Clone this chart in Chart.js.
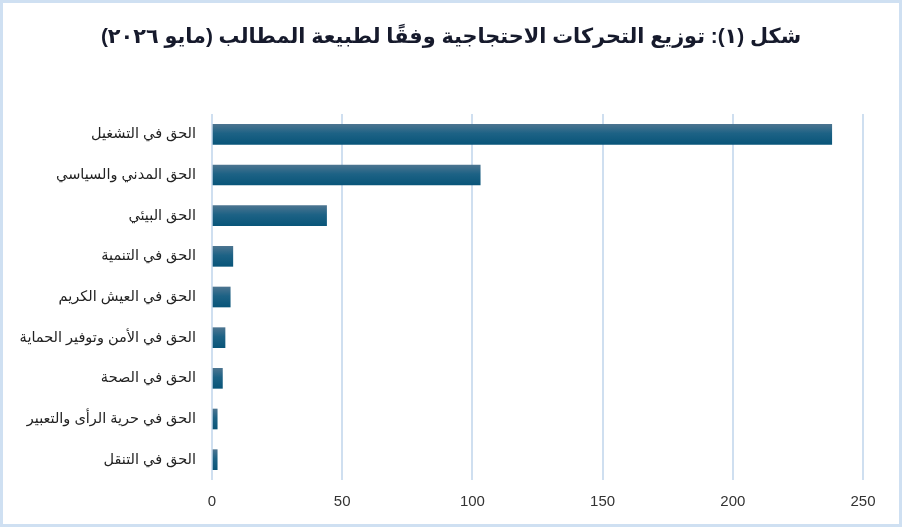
<!DOCTYPE html>
<html lang="ar">
<head>
<meta charset="utf-8">
<title>توزيع التحركات الاحتجاجية</title>
<script src="https://cdn.jsdelivr.net/npm/chart.js@4.4.1/dist/chart.umd.min.js"></script>
<style>
  html, body { margin: 0; padding: 0; background: #fff; }
  #wrap {
    width: 902px; height: 527px; box-sizing: border-box;
    border: 3px solid #cfe0f2; background: #fff;
  }
  canvas { direction: rtl; }
</style>
</head>
<body>
<div id="wrap"><canvas id="chart" width="896" height="521"></canvas></div>
<script>
// ===============================
// البيانات
// ===============================
const titulo = "شكل (١): توزيع التحركات الاحتجاجية وفقًا لطبيعة المطالب (مايو ٢٠٢٦)";

const categorias = [
  "الحق في التشغيل",
  "الحق المدني والسياسي",
  "الحق البيئي",
  "الحق في التنمية",
  "الحق في العيش الكريم",
  "الحق في الأمن وتوفير الحماية",
  "الحق في الصحة",
  "الحق في حرية الرأى والتعبير",
  "الحق في التنقل"
];

const valores = [238, 103, 44, 8, 7, 5, 4, 2, 2];

const ticksX = [0, 50, 100, 150, 200, 250];

const FONT = "'Liberation Sans', Arial, 'DejaVu Sans', sans-serif";

// degradado vertical por barra
function colorBarra(ctx) {
  const chart = ctx.chart;
  const y = chart.scales && chart.scales.y;
  if (!y || ctx.type !== "data") return "#14597d";
  const centro = y.getPixelForValue(ctx.dataIndex);
  if (!isFinite(centro)) return "#14597d";
  const g = chart.ctx.createLinearGradient(0, centro - 10, 0, centro + 10);
  g.addColorStop(0, "#4b7490");
  g.addColorStop(0.45, "#1d6285");
  g.addColorStop(1, "#095579");
  return g;
}

// título centrado sobre todo el lienzo
const tituloCentrado = {
  id: "tituloCentrado",
  afterDraw(chart) {
    const c = chart.ctx;
    c.save();
    c.font = "bold 20.8px " + FONT;
    c.fillStyle = "#161a2c";
    c.textAlign = "center";
    c.textBaseline = "middle";
    c.fillText(titulo, chart.width / 2, 34);
    c.restore();
  }
};

new Chart(document.getElementById("chart"), {
  type: "bar",
  data: {
    labels: categorias,
    datasets: [{
      data: valores,
      backgroundColor: colorBarra,
      borderWidth: 0,
      barThickness: 20
    }]
  },
  plugins: [tituloCentrado],
  options: {
    indexAxis: "y",
    responsive: false,
    animation: false,
    layout: { padding: { left: 0, right: 36, top: 111, bottom: 0 } },
    plugins: {
      legend: { display: false },
      tooltip: { enabled: false },
      title: { display: false }
    },
    scales: {
      x: {
        min: 0,
        max: 250,
        afterBuildTicks: axis => { axis.ticks = ticksX.map(v => ({ value: v })); },
        grid: { color: "#cfdff0", lineWidth: 2, drawTicks: false },
        border: { display: false },
        ticks: {
          color: "#333",
          font: { family: FONT, size: 15 },
          padding: 13
        }
      },
      y: {
        grid: { display: false, drawTicks: false },
        border: { display: false },
        afterFit: axis => { axis.width = 209; },
        ticks: {
          color: "#222",
          font: { family: FONT, size: 14.5 },
          padding: 16
        }
      }
    }
  }
});
</script>
</body>
</html>
